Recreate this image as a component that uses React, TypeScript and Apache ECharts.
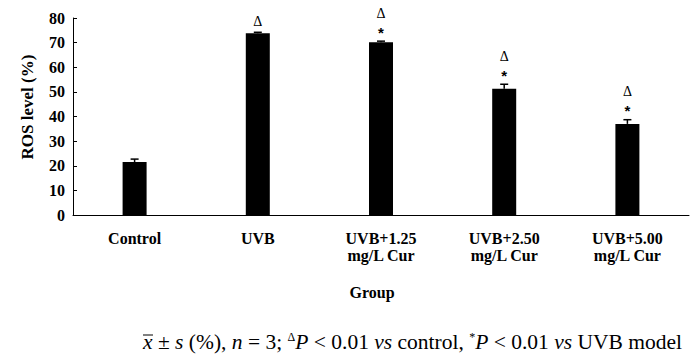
import React, { useEffect, useRef } from "react";
import * as echarts from "echarts";

const categories = ["Control", "UVB", "UVB+1.25\nmg/L Cur", "UVB+2.50\nmg/L Cur", "UVB+5.00\nmg/L Cur"];
const rosMeans = [21.5, 73.8, 70.2, 51.3, 37.0];
const rosSD = [1.2, 0.4, 0.4, 1.8, 1.7];
const deltaMarks = [false, true, true, true, true];
const starMarks = [false, false, true, true, true];
const yTicks = { min: 0, max: 80, interval: 10 };
const yAxisTitle = "ROS level (%)";
const xAxisTitle = "Group";

const SERIF = "'Liberation Serif', 'Times New Roman', serif";

export default function App() {
  const ref = useRef<HTMLDivElement>(null);
  useEffect(() => {
    document.body.style.margin = "0";
    if (!ref.current) return;
    const chart = echarts.init(ref.current, undefined, { renderer: "svg" });
    const errData = rosMeans.map((v, i) => [i, v, rosSD[i]]);
    chart.setOption({
      animation: false,
      backgroundColor: "#fff",
      grid: { left: 73, right: 7, top: 18, bottom: 148 },
      xAxis: {
        type: "category",
        data: categories,
        axisLine: { lineStyle: { color: "#000", width: 1 } },
        axisTick: { inside: true, length: 5, lineStyle: { color: "#000" } },
        axisLabel: {
          interval: 0,
          margin: 15,
          color: "#000",
          fontFamily: SERIF,
          fontWeight: "bold",
          fontSize: 16,
          lineHeight: 17,
        },
      },
      yAxis: {
        type: "value",
        min: yTicks.min,
        max: yTicks.max,
        interval: yTicks.interval,
        splitLine: { show: false },
        axisLine: { show: true, lineStyle: { color: "#000", width: 1 } },
        axisTick: { show: true, inside: true, length: 4, lineStyle: { color: "#000" } },
        axisLabel: {
          margin: 8,
          color: "#000",
          fontFamily: SERIF,
          fontWeight: "bold",
          fontSize: 16,
        },
      },
      series: [
        {
          type: "bar",
          data: rosMeans,
          barWidth: 24,
          itemStyle: { color: "#000" },
        },
        {
          type: "custom",
          data: errData,
          z: 5,
          renderItem: (params: any, api: any) => {
            const idx = api.value(0);
            const mean = api.value(1);
            const sd = api.value(2);
            const base = api.coord([idx, mean]);
            const top = api.coord([idx, mean + sd]);
            const cx = base[0];
            const children: any[] = [
              {
                type: "line",
                shape: { x1: cx, y1: base[1], x2: cx, y2: top[1] },
                style: { stroke: "#000", lineWidth: 1.5 },
              },
              {
                type: "line",
                shape: { x1: cx - 4, y1: top[1], x2: cx + 4, y2: top[1] },
                style: { stroke: "#000", lineWidth: 1.5 },
              },
            ];
            const i = params.dataIndex;
            const markY = top[1] - 13;
            if (starMarks[i]) {
              children.push({
                type: "text",
                style: {
                  text: "*",
                  x: cx,
                  y: markY + 4,
                  align: "center",
                  verticalAlign: "middle",
                  font: "bold 15px 'Liberation Sans', Arial, sans-serif",
                  fill: "#000",
                },
              });
            }
            if (deltaMarks[i]) {
              children.push({
                type: "text",
                style: {
                  text: "Δ",
                  x: cx,
                  y: starMarks[i] ? markY - 15 : markY + 2,
                  align: "center",
                  verticalAlign: "middle",
                  font: `14px ${SERIF}`,
                  fill: "#000",
                },
              });
            }
            return { type: "group", children };
          },
        },
      ],
      graphic: [
        {
          type: "text",
          x: 27,
          y: 107,
          rotation: Math.PI / 2,
          style: {
            text: yAxisTitle,
            align: "center",
            verticalAlign: "middle",
            font: `bold 17px ${SERIF}`,
            fill: "#000",
          },
        },
        {
          type: "text",
          x: 372,
          y: 292,
          style: {
            text: xAxisTitle,
            align: "center",
            verticalAlign: "middle",
            font: `bold 16px ${SERIF}`,
            fill: "#000",
          },
        },
        {
          type: "line",
          shape: { x1: 143, y1: 335, x2: 153, y2: 335 },
          style: { stroke: "#000", lineWidth: 1 },
        },
        {
          type: "text",
          x: 143,
          y: 342,
          style: {
            text:
              "{i|x} ± {i|s} (%), {i|n} = 3; {sup|Δ}{i|P} < 0.01 {i|vs} control, {sup|*}{i|P} < 0.01 {i|vs} UVB model",
            align: "left",
            verticalAlign: "middle",
            font: `21.5px ${SERIF}`,
            fill: "#000",
            rich: {
              i: { fontStyle: "italic", fontFamily: SERIF, fontSize: 21.5, fill: "#000" },
              sup: { fontFamily: SERIF, fontSize: 12, verticalAlign: "top", fill: "#000" },
            },
          },
        },
      ],
    });
    return () => chart.dispose();
  }, []);
  return <div ref={ref} style={{ width: 696, height: 363 }} />;
}
